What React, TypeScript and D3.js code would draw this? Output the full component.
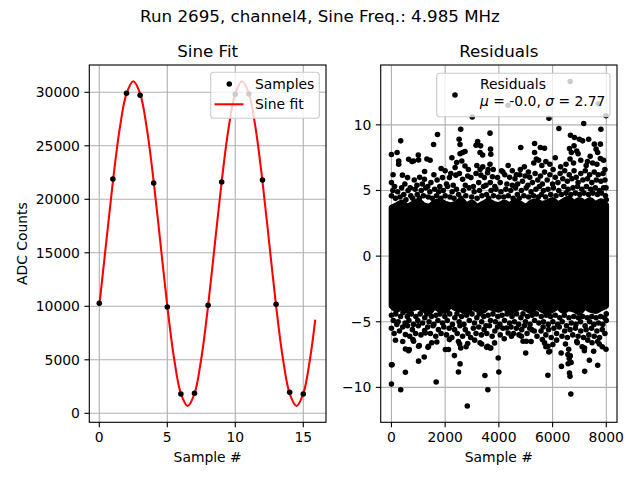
import React from "react";
import * as d3 from "d3";

// ---------- Left panel: samples and sine fit ----------
const sampleIdx = [0, 1, 2, 3, 4, 5, 6, 7, 8, 9, 10, 11, 12, 13, 14, 15];
const sampleVals = [10280, 21900, 29907, 29720, 21520, 9935, 1800, 1870, 10090, 21620, 29810, 29840, 21800, 10190, 1960, 1800];

const fitX = [0, 0.5, 1, 1.5, 2, 2.5, 3, 3.5, 4, 4.5, 5, 5.5, 6, 6.5, 7, 7.5, 8, 8.5, 9, 9.5, 10, 10.5, 11, 11.5, 12, 12.5, 13, 13.5, 14, 14.5, 15, 15.5, 15.88];
const fitY = [10047, 15855, 21663, 26587, 29878, 31033, 29878, 26587, 21663, 15855, 10047, 5123, 1832, 677, 1832, 5123, 10047, 15855, 21663, 26587, 29878, 31033, 29878, 26587, 21663, 15855, 10047, 5123, 1832, 677, 1832, 5123, 8747];

const leftYTicks = [0, 5000, 10000, 15000, 20000, 25000, 30000];
const leftXTicks = [0, 5, 10, 15];

// ---------- Right panel: residuals ----------
// dense core envelope (every 200 samples)
const coreSamples = d3.range(0, 8001, 200);
const coreTop = [3.7, 3.9, 4.1, 3.8, 4.0, 4.2, 3.9, 3.8, 4.1, 4.2, 4.0, 3.9, 4.0, 4.3, 3.9, 4.1, 3.8, 4.0, 4.2, 4.0, 3.9, 4.1, 3.9, 4.2, 4.0, 3.8, 4.1, 4.2, 4.0, 4.1, 4.3, 4.0, 4.2, 4.4, 4.1, 4.3, 4.1, 4.3, 4.0, 4.2, 3.9];
const coreBottom = [-3.8, -4.1, -3.9, -4.2, -4.0, -3.9, -4.1, -4.3, -3.9, -4.1, -4.2, -3.8, -4.0, -4.1, -4.3, -3.9, -4.1, -4.2, -3.9, -4.0, -4.1, -3.9, -4.3, -4.1, -3.9, -4.0, -4.2, -3.9, -4.1, -4.3, -4.1, -3.9, -4.2, -4.0, -4.1, -4.3, -3.9, -4.1, -4.2, -4.0, -3.8];

const upperOutliers: [number, number][] = [
  [0, 7.74], [210, 7.9], [345, 8.78], [270, 7.25], [640, 7.38], [765, 7.2], [1000, 7.7], [1010, 7.33], [1320, 7.4], [1440, 7.3],
  [1570, 8.5], [1715, 9.27], [2250, 7.5], [2520, 8.9], [2555, 8.5], [2580, 9.67], [2555, 7.8], [2650, 7.9], [2740, 7.97], [3010, 10.6],
  [3210, 8.73], [3150, 8.45], [3320, 8.4], [3300, 7.9], [3395, 7.7], [3670, 9.37], [3690, 8.15], [3700, 7.76], [3670, 7.0],
  [4345, 11.5], [4815, 8.27], [5330, 8.58], [5545, 8.27], [5700, 8.22], [5330, 7.9], [5395, 7.4], [5865, 10.5], [6235, 9.72],
  [6655, 13.3], [6667, 9.21], [6815, 9.04], [7000, 8.9], [7120, 8.78], [7160, 10.1], [7345, 8.9], [7555, 8.53], [7780, 8.53],
  [7800, 9.67], [7700, 11.6], [7990, 10.7], [6630, 8.2], [6700, 7.9], [6800, 8.4], [6900, 8.0], [6950, 7.8], [7620, 8.15],
  [7680, 7.9], [7780, 7.43], [7490, 7.1],
  [825, 7.25], [270, 7.0], [1235, 6.45], [1850, 6.67], [2000, 6.5], [2430, 7.13], [2620, 7.25], [2370, 6.75], [2740, 6.87],
  [2865, 6.6], [3180, 6.9], [3300, 6.6], [3400, 6.8], [3600, 6.6], [3790, 6.6], [4345, 6.9], [4500, 6.5], [4650, 6.2], [4800, 6.6],
  [5300, 7.1], [5480, 7.3], [5600, 6.9], [5750, 7.2], [5900, 7.0], [6100, 7.5], [6300, 6.8], [6500, 7.0], [6650, 7.4], [6780, 7.1],
  [7050, 7.3], [7250, 6.9], [7400, 7.6], [7650, 7.0], [7900, 7.3], [7950, 6.6], [4950, 6.8], [4100, 6.5], [5100, 6.4], [6020, 6.6], [7300, 7.2],
];

const upperFringe: [number, number][] = [
  [0, 5.6], [60, 6.2], [120, 5.3], [410, 6.17], [500, 5.5], [600, 5.98], [700, 5.2], [850, 5.8], [950, 5.4], [1050, 6.0],
  [1150, 5.5], [1230, 5.85], [1350, 5.3], [1470, 5.6], [1580, 6.2], [1700, 5.8], [1800, 5.3], [1900, 5.98], [2050, 5.5], [2160, 5.98],
  [2210, 6.3], [2300, 5.4], [2400, 6.17], [2530, 6.3], [2650, 5.85], [2750, 5.4], [2840, 6.1], [2960, 5.98], [3050, 5.3], [3150, 6.3],
  [3250, 5.6], [3330, 6.17], [3460, 5.98], [3520, 5.4], [3580, 6.35], [3680, 5.6], [3760, 6.05], [3850, 5.3], [3950, 5.98], [4050, 5.6],
  [4150, 6.4], [4220, 6.2], [4300, 5.5], [4400, 6.0], [4500, 5.4], [4600, 5.9], [4700, 5.5], [4780, 6.2], [4880, 5.7], [4980, 6.1],
  [5080, 5.4], [5150, 6.0], [5250, 5.6], [5350, 6.3], [5450, 5.8], [5550, 6.1], [5620, 5.5], [5700, 6.4], [5800, 5.8], [5900, 6.2],
  [6000, 5.5], [6100, 6.0], [6200, 5.6], [6280, 6.3], [6380, 5.9], [6450, 6.5], [6550, 5.7], [6620, 6.2], [6720, 5.9], [6800, 6.5],
  [6880, 6.0], [6950, 5.6], [7050, 6.3], [7130, 5.8], [7220, 6.5], [7300, 5.9], [7380, 6.2], [7460, 5.6], [7550, 6.4], [7630, 5.8],
  [7700, 6.2], [7800, 5.7], [7880, 6.3], [7950, 5.8], [7990, 5.2],
];

const upperInner: [number, number][] = [
  [0, 4.6], [50, 5.0], [150, 4.4], [230, 4.9], [320, 4.5], [380, 5.2], [460, 4.7], [540, 4.3], [620, 5.0], [720, 4.6],
  [790, 4.4], [880, 5.1], [960, 4.7], [1040, 4.4], [1110, 5.0], [1190, 4.6], [1280, 5.2], [1370, 4.5], [1430, 4.9], [1520, 4.4],
  [1610, 5.1], [1680, 4.6], [1760, 4.9], [1840, 4.4], [1930, 5.0], [2000, 4.6], [2090, 5.3], [2180, 4.5], [2260, 4.9], [2330, 4.4],
  [2420, 5.1], [2500, 4.7], [2590, 4.4], [2680, 5.0], [2770, 4.6], [2890, 5.2], [2990, 4.5], [3080, 4.9], [3190, 4.4], [3280, 5.0],
  [3370, 4.6], [3430, 5.3], [3540, 4.7], [3620, 4.4], [3710, 5.0], [3800, 4.6], [3890, 5.1], [3990, 4.5], [4080, 4.9], [4180, 4.5],
  [4260, 5.1], [4350, 4.6], [4440, 5.0], [4530, 4.4], [4620, 5.2], [4690, 4.7], [4760, 4.4], [4840, 5.0], [4930, 4.6], [5020, 5.2],
  [5110, 4.5], [5200, 4.9], [5290, 4.6], [5380, 5.1], [5470, 4.5], [5510, 5.3], [5590, 4.7], [5660, 5.0], [5740, 4.5], [5830, 5.1],
  [5930, 4.7], [6030, 5.2], [6130, 4.6], [6230, 5.0], [6330, 4.7], [6420, 5.3], [6500, 4.8], [6580, 5.1], [6680, 4.7], [6760, 5.2],
  [6850, 4.8], [6930, 5.3], [7010, 4.7], [7090, 5.1], [7170, 4.8], [7260, 5.3], [7340, 4.7], [7420, 5.1], [7500, 4.8], [7590, 5.2],
  [7670, 4.7], [7740, 5.0], [7820, 4.8], [7900, 5.2], [7970, 4.6], [7999, 4.3],
];

const lowerOutliers: [number, number][] = [
  [0, -8.27], [0, -9.74], [25, -8.27], [150, -6.41], [345, -10.18], [520, -8.85], [520, -7.07], [640, -7.2], [665, -7.12], [800, -6.36],
  [825, -6.49], [1010, -8.0], [1035, -6.82], [1010, -6.87], [1220, -7.68], [1380, -6.87], [1360, -6.95], [1665, -9.59], [1690, -6.54],
  [2010, -7.12], [2125, -7.12], [2160, -6.36], [2345, -7.58], [2495, -8.83], [2555, -8.21], [2495, -6.5], [2580, -7.0], [2540, -6.7],
  [2780, -6.9], [2825, -11.42], [2840, -6.66], [3300, -6.6], [3360, -6.69], [3480, -9.1], [3545, -6.95], [3580, -6.87], [3590, -10.18],
  [3670, -7.0], [3700, -7.0], [3840, -6.61], [3975, -7.76], [4000, -8.83], [4470, -6.1], [4840, -6.1], [4900, -6.49], [5000, -7.38],
  [5025, -6.49], [5620, -6.36], [5700, -6.61], [5750, -6.9], [5830, -6.87], [5860, -7.3], [5890, -7.25], [5825, -9.08], [6010, -6.74],
  [6320, -7.38], [6330, -8.4], [6480, -6.7], [6570, -7.5], [6600, -7.1], [6620, -7.8], [6660, -7.6], [6690, -8.1], [6580, -8.2],
  [6630, -8.9], [6650, -9.16], [6680, -10.5], [6900, -6.5], [6920, -6.6], [7100, -6.9], [7190, -7.0], [7185, -7.2], [7195, -8.78],
  [7310, -6.4], [7370, -7.94], [7470, -6.6], [7530, -7.25], [7680, -8.32], [7680, -6.5], [7740, -6.7], [7850, -6.9], [7990, -7.1],
  [5200, -6.5], [6150, -6.4], [4200, -6.3], [3100, -6.4], [1500, -6.6], [420, -6.5],
];

const lowerFringe: [number, number][] = [
  [0, -5.5], [100, -5.9], [200, -5.2], [300, -5.7], [420, -5.4], [520, -5.98], [600, -5.3], [680, -6.1], [780, -5.6], [900, -5.9],
  [1000, -5.3], [1100, -6.0], [1235, -5.67], [1260, -5.85], [1350, -5.4], [1450, -5.9], [1550, -5.3], [1650, -6.1], [1750, -5.6], [1850, -5.9],
  [1950, -5.4], [2050, -6.0], [2150, -5.5], [2250, -6.2], [2350, -5.6], [2450, -5.9], [2550, -5.3], [2650, -6.1], [2750, -5.6], [2850, -5.9],
  [2950, -6.2], [3050, -5.5], [3150, -5.9], [3250, -5.4], [3350, -6.0], [3450, -5.6], [3550, -5.9], [3650, -5.3], [3750, -6.1], [3850, -5.7],
  [3950, -5.4], [4050, -6.0], [4150, -5.5], [4285, -5.47], [4345, -5.85], [4450, -5.4], [4550, -5.9], [4650, -5.5], [4750, -6.0], [4850, -5.6],
  [4950, -5.3], [5050, -5.9], [5150, -5.5], [5220, -5.6], [5320, -5.7], [5420, -6.1], [5570, -5.7], [5650, -5.4], [5750, -6.0], [5850, -5.6],
  [5950, -6.2], [6050, -5.5], [6150, -5.9], [6250, -5.4], [6350, -6.1], [6450, -5.7], [6550, -6.2], [6650, -5.6], [6750, -6.0], [6850, -5.5],
  [6950, -6.1], [7050, -5.7], [7150, -6.2], [7250, -5.6], [7350, -6.0], [7450, -5.5], [7550, -6.1], [7650, -5.7], [7750, -6.2], [7850, -5.6],
  [7950, -5.9], [7999, -4.9],
];

const lowerInner: [number, number][] = [
  [0, -4.5], [70, -4.9], [160, -4.4], [250, -5.0], [340, -4.6], [430, -4.3], [510, -5.1], [590, -4.6], [650, -4.9], [740, -4.4],
  [820, -5.2], [910, -4.6], [980, -4.9], [1070, -4.4], [1160, -5.1], [1240, -4.7], [1320, -4.4], [1400, -5.0], [1490, -4.6], [1580, -5.2],
  [1660, -4.5], [1730, -4.9], [1810, -4.4], [1900, -5.1], [1990, -4.6], [2080, -4.9], [2170, -4.4], [2270, -5.2], [2360, -4.7], [2440, -4.4],
  [2520, -5.0], [2610, -4.6], [2700, -5.2], [2800, -4.5], [2900, -4.9], [3000, -4.4], [3090, -5.1], [3180, -4.7], [3270, -4.4], [3360, -5.0],
  [3440, -4.6], [3520, -5.3], [3600, -4.5], [3690, -4.9], [3780, -4.4], [3870, -5.0], [3960, -4.6], [4040, -5.2], [4120, -4.5], [4210, -4.9],
  [4310, -4.4], [4400, -5.1], [4490, -4.6], [4580, -5.0], [4660, -4.4], [4740, -5.2], [4820, -4.7], [4900, -4.4], [4990, -5.0], [5070, -4.6],
  [5160, -5.2], [5240, -4.5], [5330, -4.9], [5400, -4.4], [5490, -5.1], [5580, -4.6], [5660, -5.0], [5760, -4.5], [5840, -5.2], [5920, -4.6],
  [6010, -5.0], [6100, -4.5], [6190, -5.2], [6270, -4.7], [6360, -5.0], [6440, -4.5], [6520, -5.3], [6610, -4.7], [6700, -5.1], [6790, -4.6],
  [6870, -5.2], [6960, -4.7], [7040, -5.0], [7120, -4.6], [7210, -5.3], [7290, -4.7], [7380, -5.0], [7460, -4.6], [7540, -5.2], [7620, -4.7],
  [7710, -5.1], [7790, -4.6], [7870, -5.2], [7940, -4.7], [7999, -4.4],
];

const rightYTicks = [-10, -5, 0, 5, 10];
const rightXTicks = [0, 2000, 4000, 6000, 8000];

const suptitle = "Run 2695, channel4, Sine Freq.: 4.985 MHz";
const residMu = "-0.0";
const residSigma = "2.77";

// ---------- layout ----------
const W = 640, H = 480;
const FONT = "DejaVu Sans, sans-serif";
const TICK_FS = 13.9;
const TITLE_FS = 16.7;
const GRID = "#b0b0b0";
const TICK_LEN = 4.86;
const MR = 2.78;

const LA = { x0: 89.3, x1: 326, y0: 65, y1: 422.3 };
const RA = { x0: 380.7, x1: 617, y0: 65, y1: 422.3 };

const fmtMinus = (v: number) => (v < 0 ? "\u2212" + Math.abs(v) : String(v));

export default function App() {
  const xL = d3.scaleLinear().domain([-0.735, 16.67]).range([LA.x0, LA.x1]);
  const yL = d3.scaleLinear().domain([-841, 32551]).range([LA.y1, LA.y0]);
  const xR = d3.scaleLinear().domain([-400, 8399]).range([RA.x0, RA.x1]);
  const yR = d3.scaleLinear().domain([-12.66, 14.56]).range([RA.y1, RA.y0]);

  const fitPath = d3
    .line<number>()
    .x((_, i) => xL(fitX[i]))
    .y((d) => yL(d))
    .curve(d3.curveCatmullRom)(fitY) as string;

  const corePath = d3
    .area<number>()
    .x((d) => xR(d))
    .y0((_, i) => yR(coreBottom[i]))
    .y1((_, i) => yR(coreTop[i]))
    .curve(d3.curveMonotoneX)(coreSamples) as string;

  const allResid = [...upperInner, ...lowerInner, ...upperFringe, ...lowerFringe, ...upperOutliers, ...lowerOutliers];

  const axisFrame = (A: typeof LA) => (
    <rect x={A.x0} y={A.y0} width={A.x1 - A.x0} height={A.y1 - A.y0} fill="none" stroke="#000" strokeWidth={1.11} />
  );

  return (
    <svg width={W} height={H} style={{ position: "absolute", left: 0, top: 0, background: "#fff" }} fontFamily={FONT}>
      <rect x={0} y={0} width={W} height={H} fill="#fff" />
      <text x={320} y={22} textAnchor="middle" fontSize={TITLE_FS}>{suptitle}</text>

      {/* ---------- Left panel ---------- */}
      <g>
        {leftXTicks.map((t) => (
          <line key={"lgx" + t} x1={xL(t)} x2={xL(t)} y1={LA.y0} y2={LA.y1} stroke={GRID} strokeWidth={1.11} />
        ))}
        {leftYTicks.map((t) => (
          <line key={"lgy" + t} x1={LA.x0} x2={LA.x1} y1={yL(t)} y2={yL(t)} stroke={GRID} strokeWidth={1.11} />
        ))}
        <path d={fitPath} fill="none" stroke="#ff0000" strokeWidth={2.08} />
        {sampleIdx.map((s, i) => (
          <circle key={"s" + i} cx={xL(s)} cy={yL(sampleVals[i])} r={MR} fill="#000" />
        ))}
        {axisFrame(LA)}
        {leftXTicks.map((t) => (
          <g key={"ltx" + t}>
            <line x1={xL(t)} x2={xL(t)} y1={LA.y1} y2={LA.y1 + TICK_LEN} stroke="#000" strokeWidth={1.11} />
            <text x={xL(t)} y={442} textAnchor="middle" fontSize={TICK_FS}>{fmtMinus(t)}</text>
          </g>
        ))}
        {leftYTicks.map((t) => (
          <g key={"lty" + t}>
            <line x1={LA.x0 - TICK_LEN} x2={LA.x0} y1={yL(t)} y2={yL(t)} stroke="#000" strokeWidth={1.11} />
            <text x={LA.x0 - TICK_LEN - 4.5} y={yL(t) + 5} textAnchor="end" fontSize={TICK_FS}>{fmtMinus(t)}</text>
          </g>
        ))}
        <text x={(LA.x0 + LA.x1) / 2} y={462} textAnchor="middle" fontSize={TICK_FS}>Sample #</text>
        <text transform={`translate(26.5,${(LA.y0 + LA.y1) / 2}) rotate(-90)`} textAnchor="middle" fontSize={TICK_FS}>ADC Counts</text>
        <text x={(LA.x0 + LA.x1) / 2} y={57} textAnchor="middle" fontSize={TITLE_FS}>Sine Fit</text>

        {/* legend */}
        <rect x={210.7} y={72.3} width={108.6} height={46} rx={3} fill="#fff" fillOpacity={0.8} stroke="#cccccc" strokeWidth={1.11} />
        <circle cx={229.3} cy={84} r={MR} fill="#000" />
        <text x={255} y={89} fontSize={TICK_FS}>Samples</text>
        <line x1={214.5} x2={243.5} y1={104.3} y2={104.3} stroke="#ff0000" strokeWidth={2.08} />
        <text x={255} y={109.3} fontSize={TICK_FS}>Sine fit</text>
      </g>

      {/* ---------- Right panel ---------- */}
      <g>
        {rightXTicks.map((t) => (
          <line key={"rgx" + t} x1={xR(t)} x2={xR(t)} y1={RA.y0} y2={RA.y1} stroke={GRID} strokeWidth={1.11} />
        ))}
        {rightYTicks.map((t) => (
          <line key={"rgy" + t} x1={RA.x0} x2={RA.x1} y1={yR(t)} y2={yR(t)} stroke={GRID} strokeWidth={1.11} />
        ))}
        <path d={corePath} fill="#000" stroke="#000" strokeWidth={MR * 2} strokeLinejoin="round" />
        {allResid.map(([s, v], i) => (
          <circle key={"r" + i} cx={xR(s)} cy={yR(v)} r={MR} fill="#000" />
        ))}
        {axisFrame(RA)}
        {rightXTicks.map((t) => (
          <g key={"rtx" + t}>
            <line x1={xR(t)} x2={xR(t)} y1={RA.y1} y2={RA.y1 + TICK_LEN} stroke="#000" strokeWidth={1.11} />
            <text x={xR(t)} y={442} textAnchor="middle" fontSize={TICK_FS}>{fmtMinus(t)}</text>
          </g>
        ))}
        {rightYTicks.map((t) => (
          <g key={"rty" + t}>
            <line x1={RA.x0 - TICK_LEN} x2={RA.x0} y1={yR(t)} y2={yR(t)} stroke="#000" strokeWidth={1.11} />
            <text x={RA.x0 - TICK_LEN - 4.5} y={yR(t) + 5} textAnchor="end" fontSize={TICK_FS}>{fmtMinus(t)}</text>
          </g>
        ))}
        <text x={(RA.x0 + RA.x1) / 2} y={462} textAnchor="middle" fontSize={TICK_FS}>Sample #</text>
        <text x={(RA.x0 + RA.x1) / 2} y={57} textAnchor="middle" fontSize={TITLE_FS}>Residuals</text>

        {/* legend */}
        <rect x={436.7} y={73.3} width={173.3} height={43.4} rx={3} fill="#fff" fillOpacity={0.8} stroke="#cccccc" strokeWidth={1.11} />
        <circle cx={455} cy={95} r={MR} fill="#000" />
        <text x={480} y={89} fontSize={TICK_FS}>Residuals</text>
        <text x={480} y={106} fontSize={TICK_FS}>
          <tspan fontStyle="italic">μ</tspan>
          <tspan>{` = ${residMu}, `}</tspan>
          <tspan fontStyle="italic">σ</tspan>
          <tspan>{` = ${residSigma}`}</tspan>
        </text>
      </g>
    </svg>
  );
}
